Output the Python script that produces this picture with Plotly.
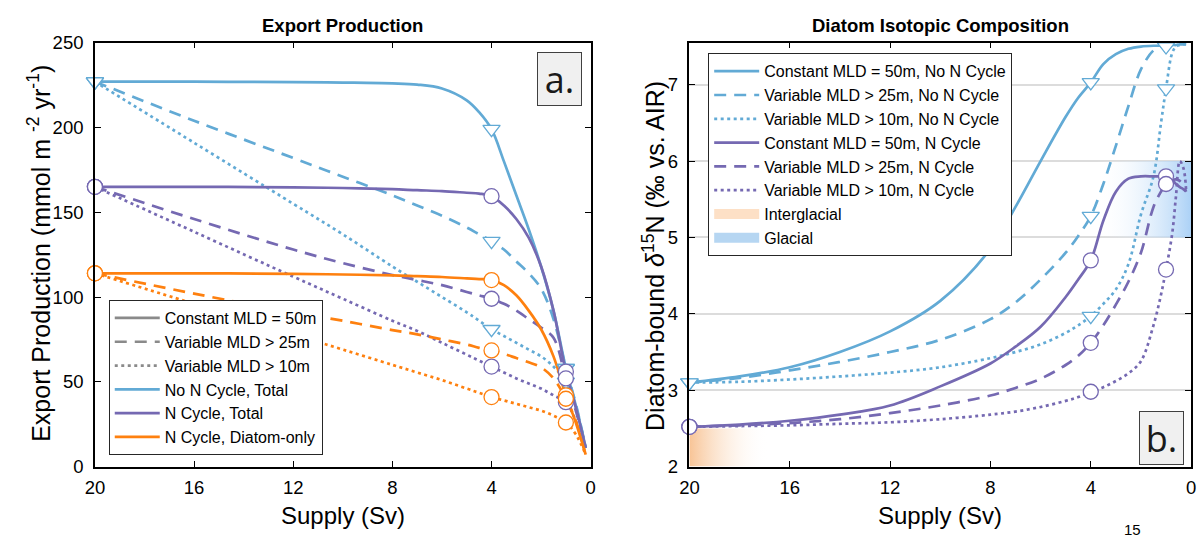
import plotly.graph_objects as go

# ---------------- data ----------------
# Panel a: Export production (mmol m-2 yr-1) vs supply (Sv)
supply_a = [20, 16, 12, 10, 8, 7, 6, 5, 4.5, 4, 3.5, 3, 2.5, 2, 1.5, 1, 0.6, 0.2]
ep_noN_const = [227, 227, 226.8, 226.5, 226, 225.3, 223, 216, 209, 199, 180, 160, 140, 118, 92, 58, 36, 11]
ep_noN_var25 = [227, 204, 182, 171, 160, 154, 148, 141, 137, 133, 128, 121, 114, 105, 87, 58, 37, 11]
ep_noN_var10 = [227, 191, 155, 137, 118, 109, 100, 91, 86, 81, 77, 73, 69, 65, 59, 50, 35, 11]
ep_N_const = [165, 165, 164.7, 164.3, 163.6, 163, 162.5, 161.5, 161, 159.5, 154, 146, 135, 118, 92, 56, 35, 11]
ep_N_var25 = [165, 146, 128, 120, 113, 110, 107, 103, 101, 99, 96, 92, 87, 82, 76, 52, 33, 11]
ep_N_var10 = [165, 138.5, 112, 99, 86, 80, 73, 66, 62.5, 59, 55.5, 52, 49, 46, 42, 38, 27, 11]
ep_diat_const = [114, 114, 113.7, 113.3, 112.8, 112.3, 111.8, 111, 110.6, 110, 107, 101, 92, 81, 65, 42, 26, 7]
ep_diat_var25 = [114, 102, 91, 86, 80.5, 78, 75, 72, 70, 68.5, 66.5, 64, 61.5, 58.5, 52, 40, 27, 7]
ep_diat_var10 = [114, 96, 78, 69, 60, 55.5, 51, 46, 43.5, 41, 39, 37, 35, 33, 30, 26, 19, 7]

# Panel b: diatom-bound d15N (permil) vs supply (Sv)
supply_b = [20, 18, 16, 14, 12, 10, 8, 7, 6, 5, 4.5, 4, 3.5, 3, 2.5, 2, 1.5, 1.2, 1, 0.75, 0.6, 0.45, 0.3, 0.2]
d15_noN_const = [3.1, 3.18, 3.3, 3.5, 3.77, 4.17, 4.85, 5.4, 6.0, 6.58, 6.83, 7.03, 7.27, 7.4, 7.47, 7.5, 7.51, 7.51, 7.51, 7.52, 7.52, 7.53, 7.53, 7.53]
d15_noN_var25 = [3.1, 3.16, 3.26, 3.37, 3.5, 3.66, 3.93, 4.15, 4.45, 4.8, 5.02, 5.28, 5.7, 6.2, 6.72, 7.2, 7.45, 7.5, 7.5, 7.52, 7.52, 7.53, 7.53, 7.53]
d15_noN_var10 = [3.1, 3.11, 3.14, 3.18, 3.23, 3.3, 3.42, 3.5, 3.6, 3.75, 3.85, 3.97, 4.13, 4.32, 4.65, 5.3, 5.8, 6.5, 6.95, 7.42, 7.5, 7.52, 7.53, 7.53]
d15_N_const = [2.52, 2.55, 2.6, 2.68, 2.8, 3.05, 3.35, 3.57, 3.83, 4.22, 4.45, 4.7, 5.22, 5.6, 5.77, 5.8, 5.8, 5.8, 5.8, 5.75, 5.7, 5.66, 5.63, 5.6]
d15_N_var25 = [2.52, 2.54, 2.57, 2.62, 2.7, 2.8, 2.93, 3.03, 3.15, 3.33, 3.45, 3.62, 3.85, 4.12, 4.42, 4.8, 5.4, 5.6, 5.7, 5.75, 5.76, 5.74, 5.68, 5.6]
d15_N_var10 = [2.52, 2.53, 2.54, 2.56, 2.58, 2.62, 2.68, 2.72, 2.78, 2.86, 2.91, 2.98, 3.04, 3.12, 3.22, 3.38, 3.85, 4.25, 4.58, 5.06, 5.55, 6.0, 5.9, 5.62]

marker_supply = [20, 4, 1]

# shaded ranges in panel b: (supply from, supply to, d15N low, d15N high)
interglacial_box = [16.9, 20, 2.0, 2.5]
glacial_box = [0, 4, 5.0, 6.0]

x_ticks = [20, 16, 12, 8, 4, 0]
ya_ticks = [0, 50, 100, 150, 200, 250]
yb_ticks = [2, 3, 4, 5, 6, 7]

# ---------------- style ----------------
W, H = 1204, 540
BLUE = "#62aad5"
PURPLE = "#7569b2"
ORANGE = "#fe800f"
GRAY = "#8a8a8a"
DASH = "12px,8px"
DOT = "3px,3.5px"
FONT = "Liberation Sans, Arial, sans-serif"

def px(x):
    return x / W

def py(y):
    return 1 - y / H

fig = go.Figure()

def curve(x, y, color, dash, xa, ya, name=None, legend=None, show=False, rank=None):
    fig.add_trace(go.Scatter(
        x=x, y=y, mode="lines", name=name,
        line=dict(color=color, width=2.7, dash=dash, shape="spline", smoothing=1.0),
        xaxis=xa, yaxis=ya, showlegend=show, legend=legend,
        legendrank=rank if rank is not None else 1000, hoverinfo="skip"))

def markers(x, y, color, symbol, size, xa, ya):
    mx = [xv for xv in x if xv in marker_supply]
    my = [yv for xv, yv in zip(x, y) if xv in marker_supply]
    fig.add_trace(go.Scatter(
        x=mx, y=my, mode="markers", showlegend=False, cliponaxis=False,
        marker=dict(symbol=symbol, size=size, color="white", line=dict(color=color, width=1.3)),
        xaxis=xa, yaxis=ya, hoverinfo="skip"))

# ---- panel b background gradients ----
for box, cs in [
    (interglacial_box, [[0, "rgba(255,255,255,0)"], [1, "rgba(248,196,150,1)"]]),
    (glacial_box, [[0, "rgba(160,203,245,1)"], [1, "rgba(255,255,255,0)"]]),
]:
    x0, x1, y0, y1 = box
    fig.add_trace(go.Scatter(
        x=[x0, x1, x1, x0, x0], y=[y0, y0, y1, y1, y0], mode="none", fill="toself",
        fillgradient=dict(type="horizontal", colorscale=cs, start=x0, stop=x1),
        xaxis="x2", yaxis="y2", showlegend=False, hoverinfo="skip"))

# ---- panel a legend dummies (line styles) ----
for nm, ds, rk in [("Constant MLD = 50m", "solid", 1), ("Variable MLD > 25m", DASH, 2),
                   ("Variable MLD > 10m", DOT, 3)]:
    fig.add_trace(go.Scatter(x=[None], y=[None], mode="lines", name=nm,
                             line=dict(color=GRAY, width=2.7, dash=ds),
                             xaxis="x", yaxis="y", showlegend=True, legend="legend", legendrank=rk))

# ---- panel a curves ----
curve(supply_a, ep_noN_var25, BLUE, DASH, "x", "y")
curve(supply_a, ep_noN_var10, BLUE, DOT, "x", "y")
curve(supply_a, ep_N_var25, PURPLE, DASH, "x", "y")
curve(supply_a, ep_N_var10, PURPLE, DOT, "x", "y")
curve(supply_a, ep_diat_var25, ORANGE, DASH, "x", "y")
curve(supply_a, ep_diat_var10, ORANGE, DOT, "x", "y")
curve(supply_a, ep_noN_const, BLUE, "solid", "x", "y", "No N Cycle, Total", "legend", True, 4)
curve(supply_a, ep_N_const, PURPLE, "solid", "x", "y", "N Cycle, Total", "legend", True, 5)
curve(supply_a, ep_diat_const, ORANGE, "solid", "x", "y", "N Cycle, Diatom-only", "legend", True, 6)

for yv in [ep_noN_const, ep_noN_var25, ep_noN_var10]:
    markers(supply_a, yv, BLUE, "triangle-down", 15, "x", "y")
for yv in [ep_N_const, ep_N_var25, ep_N_var10]:
    markers(supply_a, yv, PURPLE, "circle", 15, "x", "y")
for yv in [ep_diat_const, ep_diat_var25, ep_diat_var10]:
    markers(supply_a, yv, ORANGE, "circle", 15, "x", "y")

# ---- panel b curves ----
curve(supply_b, d15_noN_const, BLUE, "solid", "x2", "y2", "Constant MLD = 50m, No N Cycle", "legend2", True, 1)
curve(supply_b, d15_noN_var25, BLUE, DASH, "x2", "y2", "Variable MLD > 25m, No N Cycle", "legend2", True, 2)
curve(supply_b, d15_noN_var10, BLUE, DOT, "x2", "y2", "Variable MLD > 10m, No N Cycle", "legend2", True, 3)
curve(supply_b, d15_N_const, PURPLE, "solid", "x2", "y2", "Constant MLD = 50m, N Cycle", "legend2", True, 4)
curve(supply_b, d15_N_var25, PURPLE, DASH, "x2", "y2", "Variable MLD > 25m, N Cycle", "legend2", True, 5)
curve(supply_b, d15_N_var10, PURPLE, DOT, "x2", "y2", "Variable MLD > 10m, N Cycle", "legend2", True, 6)

for nm, fc, rk in [("Interglacial", "#fde0c6", 7), ("Glacial", "#b6d6f2", 8)]:
    fig.add_trace(go.Scatter(x=[None], y=[None], mode="lines", line=dict(color=fc, width=16),
                             name=nm, xaxis="x2", yaxis="y2", showlegend=True,
                             legend="legend2", legendrank=rk))

for yv in [d15_noN_const, d15_noN_var25, d15_noN_var10]:
    markers(supply_b, yv, BLUE, "triangle-down", 15, "x2", "y2")
for yv in [d15_N_const, d15_N_var25, d15_N_var10]:
    markers(supply_b, yv, PURPLE, "circle", 15, "x2", "y2")

# ---------------- layout ----------------
axis_common = dict(showline=True, linecolor="black", linewidth=1.5, mirror="ticks",
                   ticks="inside", ticklen=6, tickwidth=1.4, tickcolor="black",
                   zeroline=False, tickfont=dict(size=18.5, color="black", family=FONT))
ydom = [py(474), py(33)]

fig.update_layout(
    width=W, height=H, autosize=False,
    margin=dict(l=0, r=0, t=0, b=0),
    paper_bgcolor="white", plot_bgcolor="white",
    font=dict(family=FONT, color="black"),
    xaxis=dict(domain=[px(86), px(588)], range=[20, 0], tickvals=x_ticks, showgrid=False,
               anchor="y", ticklabelstandoff=3, **axis_common),
    yaxis=dict(domain=ydom, range=[0, 250], tickvals=ya_ticks, showgrid=False,
               anchor="x", ticklabelstandoff=6, **axis_common),
    xaxis2=dict(domain=[px(688), px(1196)], range=[20, 0], tickvals=x_ticks, showgrid=False,
                anchor="y2", ticklabelstandoff=3, **axis_common),
    yaxis2=dict(domain=ydom, range=[2, 7.55], tickvals=yb_ticks, showgrid=True,
                gridcolor="#dcdcdc", gridwidth=1.5, anchor="x2", ticklabelstandoff=6,
                **axis_common),
    legend=dict(x=px(100), y=py(462), xanchor="left", yanchor="bottom",
                bgcolor="white", bordercolor="#262626", borderwidth=1,
                font=dict(size=16, family=FONT, color="black"), traceorder="normal",
                itemwidth=45),
    legend2=dict(x=px(707), y=py(44), xanchor="left", yanchor="top",
                 bgcolor="white", bordercolor="#262626", borderwidth=1,
                 font=dict(size=16, family=FONT, color="black"), traceorder="normal",
                 itemwidth=45),
    showlegend=True,
)

ann = []
# panel titles
ann.append(dict(text="<b>Export Production</b>", x=px(337), y=py(15), xref="paper", yref="paper",
                showarrow=False, font=dict(size=18.5), xanchor="center", yanchor="middle"))
ann.append(dict(text="<b>Diatom Isotopic Composition</b>", x=px(942), y=py(15), xref="paper",
                yref="paper", showarrow=False, font=dict(size=18.5), xanchor="center", yanchor="middle"))
# axis titles
for cx in [337, 942]:
    ann.append(dict(text="Supply (Sv)", x=px(cx), y=py(525), xref="paper", yref="paper",
                    showarrow=False, font=dict(size=24), xanchor="center", yanchor="middle"))
ann.append(dict(text="Export Production (mmol m <sup>-2</sup> yr<sup>-1</sup>)", x=px(30), y=py(252),
                xref="paper", yref="paper", showarrow=False, textangle=-90,
                font=dict(size=25), xanchor="center", yanchor="middle"))
ann.append(dict(text="Diatom-bound <i>δ</i><sup>15</sup>N (‰ vs. AIR)", x=px(652), y=py(255),
                xref="paper", yref="paper", showarrow=False, textangle=-90,
                font=dict(size=25), xanchor="center", yanchor="middle"))
# panel labels
for t, cx, cy in [("a.", 556.5, 71), ("b.", 1166.5, 444)]:
    ann.append(dict(text=t, x=px(cx), y=py(cy), xref="paper", yref="paper", showarrow=False,
                    font=dict(size=36, family="Open Sans, sans-serif", color="#1a1a1a"),
                    bgcolor="#f0f0f0", bordercolor="#404040", borderwidth=1, borderpad=0,
                    width=43, height=52, xanchor="center", yanchor="middle", valign="middle"))
# cut-off caption fragment at bottom edge
ann.append(dict(text="15", x=px(1137), y=py(539), xref="paper", yref="paper", showarrow=False,
                font=dict(size=15), xanchor="center", yanchor="middle"))
fig.update_layout(annotations=ann)

fig.write_html("out.html")
